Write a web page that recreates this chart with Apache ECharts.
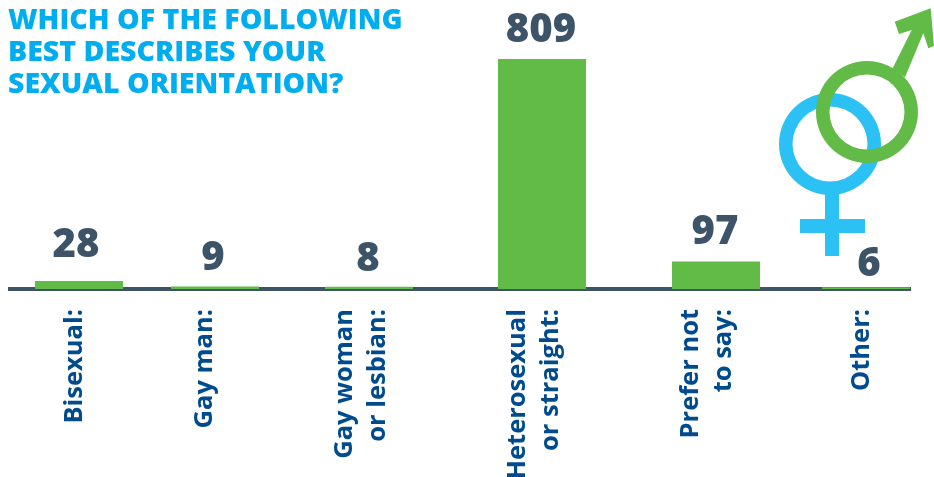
<!DOCTYPE html>
<html>
<head>
<meta charset="utf-8">
<style>html,body{margin:0;padding:0;background:#fff}#c{width:934px;height:477px}</style>
<script src="https://cdn.jsdelivr.net/npm/echarts@6/dist/echarts.min.js"></script>
</head>
<body>
<div id="c"></div>
<script>
const categories = ['Bisexual:', 'Gay man:', 'Gay woman\nor lesbian:', 'Heterosexual\nor straight:', 'Prefer not\nto say:', 'Other:'];
const values = [28, 9, 8, 809, 97, 6];
const titleText = 'WHICH OF THE FOLLOWING\nBEST DESCRIBES YOUR\nSEXUAL ORIENTATION?';

// layout: the reference spaces its bars unevenly, so the x axis is a plain position scale
const barSlots = [79, 215, 369, 542, 716, 866];
const labelSlots = [75, 205, 361, 534, 707, 862];
const labelGaps = [15, 8, 7, 8, 9, 3];
const labelNudges = [-3, -2, -1, -1, -1, 3];

const chart = echarts.init(document.getElementById('c'), null, {renderer: 'canvas'});
chart.setOption({
  animation: false,
  backgroundColor: '#fff',
  title: {
    text: titleText, left: 8, top: 5, padding: 0,
    textStyle: {color: '#00AEEF', fontFamily: 'Open Sans', fontWeight: 800, fontSize: 28.5, lineHeight: 32}
  },
  grid: {left: 8, right: 23, top: 59, bottom: 188, outerBoundsMode: 'none'},
  xAxis: {
    type: 'value', min: 8, max: 911, offset: 1,
    axisLine: {show: true, lineStyle: {color: '#3D5468', width: 4, cap: 'butt'}},
    axisTick: {show: false},
    splitLine: {show: false},
    axisLabel: {
      customValues: labelSlots,
      rotate: 90, margin: 19, align: 'right', verticalAlign: 'middle',
      color: '#004B8D', fontFamily: 'Open Sans', fontWeight: 'bold', fontSize: 25.5, lineHeight: 33,
      formatter: v => categories[labelSlots.indexOf(v)] || ''
    }
  },
  yAxis: {type: 'value', min: 0, max: 809, show: false},
  series: [{
    type: 'bar', barWidth: 88,
    itemStyle: {color: '#62BB46'},
    data: values.map((v, i) => ({
      value: [barSlots[i], v],
      label: {distance: labelGaps[i], offset: [labelNudges[i], 0]}
    })),
    label: {
      show: true, position: 'top',
      color: '#3D5468', fontFamily: 'Open Sans', fontWeight: 800, fontSize: 40,
      formatter: p => p.value[1]
    }
  }],
  graphic: [
    {type: 'ring', shape: {cx: 830, cy: 144, r: 51, r0: 37.5}, style: {fill: '#2BC1F4'}, z: 10},
    {type: 'rect', shape: {x: 825, y: 190, width: 14, height: 66}, style: {fill: '#2BC1F4'}, z: 10},
    {type: 'rect', shape: {x: 800, y: 219, width: 65, height: 14}, style: {fill: '#2BC1F4'}, z: 10},
    {type: 'ring', shape: {cx: 867, cy: 112, r: 51, r0: 37.5}, style: {fill: '#62BB46'}, z: 11},
    {type: 'polygon', shape: {points: [[892.7, 68.3], [911.7, 30], [899, 34], [894.7, 21.7], [930.7, 8.3], [934, 46], [928.3, 48.3], [923.3, 33.3], [905, 77.3]]}, style: {fill: '#62BB46'}, z: 11}
  ]
});
</script>
</body>
</html>
